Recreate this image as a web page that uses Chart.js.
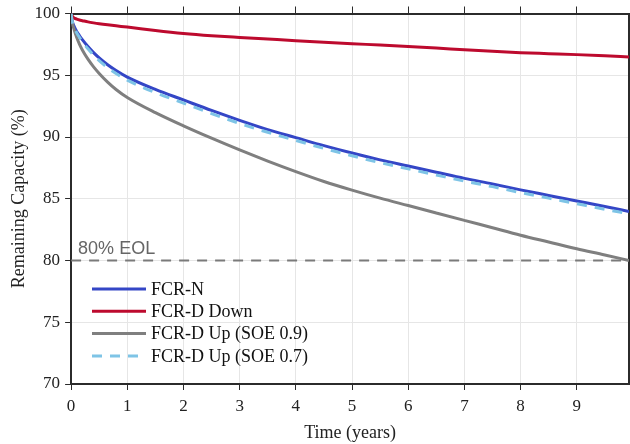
<!DOCTYPE html>
<html>
<head>
<meta charset="utf-8">
<script src="https://cdn.jsdelivr.net/npm/chart.js@4.4.1/dist/chart.umd.min.js"></script>
<style>
  html, body { margin: 0; padding: 0; background: #fff; }
  #wrap { width: 630px; height: 444px; }
</style>
</head>
<body>
<div id="wrap"><canvas id="cap" width="630" height="444"></canvas></div>
<script>
// time axis (years)
var years = [0, 0.02, 0.05, 0.1, 0.15, 0.2, 0.3, 0.4, 0.5, 0.65, 0.8, 1, 1.5, 2, 2.5, 3, 3.5, 4, 4.5, 5, 5.5, 6, 6.5, 7, 7.5, 8, 8.5, 9, 9.5, 9.93];

// remaining capacity (%)
var fcrN      = [100, 99.4, 99.0, 98.55, 98.2, 97.88, 97.32, 96.83, 96.4, 95.85, 95.38, 94.85, 93.85, 93.0, 92.15, 91.35, 90.6, 89.95, 89.3, 88.7, 88.15, 87.65, 87.15, 86.65, 86.2, 85.72, 85.27, 84.82, 84.37, 83.97];
var fcrDDown  = [100, 99.8, 99.65, 99.55, 99.47, 99.42, 99.32, 99.24, 99.17, 99.08, 99.0, 98.9, 98.62, 98.38, 98.2, 98.06, 97.93, 97.8, 97.68, 97.56, 97.44, 97.32, 97.2, 97.07, 96.95, 96.83, 96.75, 96.67, 96.57, 96.48];
var fcrDUp09  = [100, 99.3, 98.75, 98.05, 97.5, 97.05, 96.3, 95.68, 95.15, 94.45, 93.85, 93.2, 91.97, 90.9, 89.9, 88.95, 88.05, 87.2, 86.4, 85.7, 85.05, 84.45, 83.85, 83.25, 82.65, 82.05, 81.5, 80.95, 80.45, 80.0];
var fcrDUp07  = [100, 99.35, 98.92, 98.43, 98.06, 97.72, 97.14, 96.63, 96.19, 95.62, 95.14, 94.6, 93.6, 92.75, 91.9, 91.1, 90.38, 89.72, 89.08, 88.48, 87.92, 87.42, 86.92, 86.43, 85.98, 85.5, 85.05, 84.6, 84.15, 83.78];

// end-of-life threshold
var eolYears = [0, 9.93];
var eolCap = [80, 80];
var eolLabel = "80% EOL";

var xMax = 9.93;
var yMin = 70, yMax = 100;

function pts(xs, ys) {
    return xs.map(function(x, i) { return {x: x, y: ys[i]}; });
}

var serif = "'Liberation Serif', 'Times New Roman', serif";
var axisDark = "#2b2b2b";
var gridCol = "#e6e6e6";

// legend drawn inside the plot, lower left
var innerLegend = {
    id: "innerLegend",
    afterDraw: function(chart) {
        var ctx = chart.ctx;
        var x0 = 92, x1 = 146, tx = 151, y = 289, step = 22.3;
        ctx.save();
        ctx.font = "18px " + serif;
        ctx.textBaseline = "middle";
        chart.data.datasets.forEach(function(ds) {
            if (ds.hideInLegend) return;
            ctx.beginPath();
            ctx.strokeStyle = ds.borderColor;
            ctx.lineWidth = ds.borderWidth;
            ctx.setLineDash(ds.borderDash || []);
            ctx.moveTo(x0, y);
            ctx.lineTo(x1, y);
            ctx.stroke();
            ctx.setLineDash([]);
            ctx.fillStyle = "#111";
            ctx.fillText(ds.label, tx, y + 1);
            y += step;
        });
        ctx.restore();
    }
};

// EOL annotation above the threshold line
var eolText = {
    id: "eolText",
    afterDatasetsDraw: function(chart) {
        var ctx = chart.ctx;
        var ys = chart.scales.y.getPixelForValue(eolCap[0]);
        ctx.save();
        ctx.font = "18px 'Liberation Sans', Arial, sans-serif";
        ctx.fillStyle = "#666";
        ctx.textBaseline = "alphabetic";
        ctx.fillText(eolLabel, chart.chartArea.left + 7, ys - 7);
        ctx.restore();
    }
};

var ctx = document.getElementById("cap").getContext("2d");
var capChart = new Chart(ctx, {
    type: "line",
    data: {
        datasets: [
            { label: "FCR-N", data: pts(years, fcrN), borderColor: "#3446c6", borderWidth: 3, order: 4 },
            { label: "FCR-D Down", data: pts(years, fcrDDown), borderColor: "#bd0a2e", borderWidth: 3, order: 3 },
            { label: "FCR-D Up (SOE 0.9)", data: pts(years, fcrDUp09), borderColor: "#7f7f7f", borderWidth: 3, order: 2 },
            { label: "FCR-D Up (SOE 0.7)", data: pts(years, fcrDUp07), borderColor: "#7ec4e6", borderWidth: 3, borderDash: [10, 8], order: 1 },
            { label: "EOL", data: pts(eolYears, eolCap), borderColor: "#7a7a7a", borderWidth: 2, borderDash: [10, 8], order: 5, hideInLegend: true, cubicInterpolationMode: "default" }
        ]
    },
    options: {
        responsive: false,
        animation: false,
        events: [],
        layout: { padding: { left: 5, right: 1, top: 5, bottom: 0 } },
        elements: {
            point: { radius: 0 },
            line: { tension: 0, cubicInterpolationMode: "monotone", fill: false }
        },
        plugins: {
            legend: { display: false },
            tooltip: { enabled: false }
        },
        scales: {
            x: {
                type: "linear",
                position: "bottom",
                min: 0, max: xMax,
                ticks: { stepSize: 1, includeBounds: false, color: "#222", padding: 6, font: { family: serif, size: 17 }, maxRotation: 0 },
                grid: { color: gridCol, tickColor: axisDark, tickLength: 6, lineWidth: 1 },
                border: { color: axisDark, width: 2 },
                title: { display: true, text: "Time (years)", color: "#222", font: { family: serif, size: 18 }, padding: { top: 0, bottom: 0 } }
            },
            x2: {
                type: "linear",
                position: "top",
                min: 0, max: xMax,
                ticks: { display: false, stepSize: 1, includeBounds: false },
                grid: { drawOnChartArea: false, tickColor: axisDark, tickLength: 7 },
                border: { color: axisDark, width: 2 }
            },
            y: {
                type: "linear",
                position: "left",
                min: yMin, max: yMax,
                ticks: { stepSize: 5, color: "#222", padding: 5, font: { family: serif, size: 17, lineHeight: 1 } },
                grid: { color: gridCol, tickColor: axisDark, tickLength: 6, lineWidth: 1 },
                border: { color: axisDark, width: 2 },
                title: { display: true, text: "Remaining Capacity (%)", color: "#222", font: { family: serif, size: 18 }, padding: { top: 3, bottom: 0 } }
            },
            y2: {
                type: "linear",
                position: "right",
                min: yMin, max: yMax,
                ticks: { display: false },
                grid: { display: false, drawTicks: false },
                border: { color: axisDark, width: 2 }
            }
        }
    },
    plugins: [innerLegend, eolText]
});
</script>
</body>
</html>
